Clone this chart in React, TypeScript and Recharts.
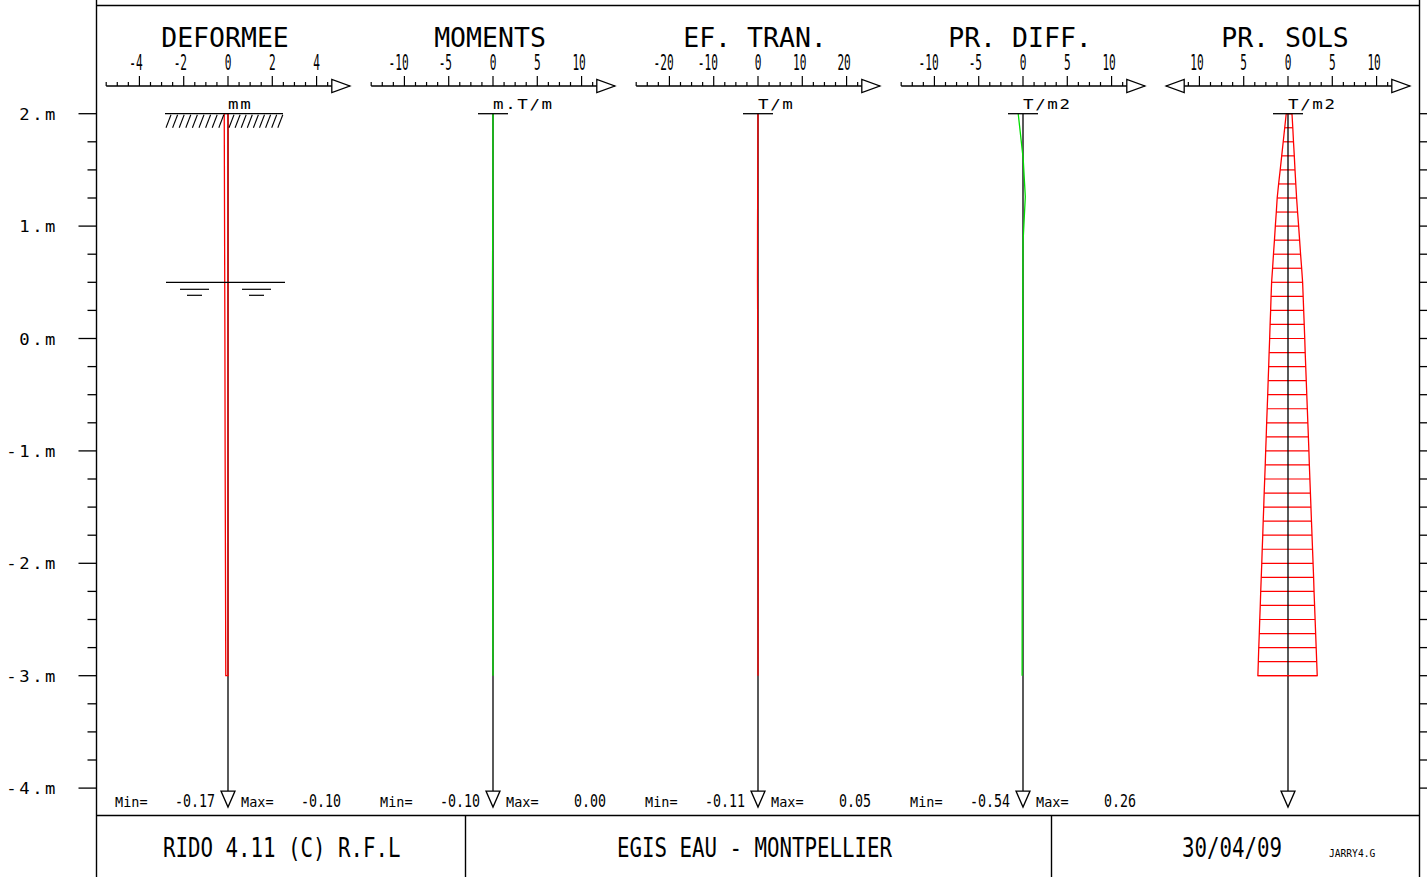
import React from 'react';
import { ComposedChart, XAxis, YAxis, Scatter, ReferenceLine, ReferenceDot } from 'recharts';

const FONT = '"DejaVu Sans Mono", monospace';
const RED = '#ff0000';
const GREEN = '#00dd00';

// ---- depth axis ----
const depthMajor = [2, 1, 0, -1, -2, -3, -4];
const depthLabels = ['2.m', '1.m', '0.m', '-1.m', '-2.m', '-3.m', '-4.m'];
const depthTicks = [2, 1.75, 1.5, 1.25, 1, 0.75, 0.5, 0.25, 0, -0.25, -0.5, -0.75, -1, -1.25, -1.5, -1.75, -2, -2.25, -2.5, -2.75, -3, -3.25, -3.5, -3.75, -4];

const pileTop = 2;
const pileBottom = -3;
const axisBottom = -4;
const waterLevel = 0.5;

// ---- ruler scales ----
const ticksDeformee = [-5.5, -5, -4.5, -4, -3.5, -3, -2.5, -2, -1.5, -1, -0.5, 0, 0.5, 1, 1.5, 2, 2.5, 3, 3.5, 4, 4.5];
const labelsDeformee = [-4, -2, 0, 2, 4];
const ticks10 = [-13.75, -12.5, -11.25, -10, -8.75, -7.5, -6.25, -5, -3.75, -2.5, -1.25, 0, 1.25, 2.5, 3.75, 5, 6.25, 7.5, 8.75, 10, 11.25];
const labels10 = [-10, -5, 0, 5, 10];
const ticks20 = [-27.5, -25, -22.5, -20, -17.5, -15, -12.5, -10, -7.5, -5, -2.5, 0, 2.5, 5, 7.5, 10, 12.5, 15, 17.5, 20, 22.5];
const labels20 = [-20, -10, 0, 10, 20];
const ticksSols = [-11.25, -10, -8.75, -7.5, -6.25, -5, -3.75, -2.5, -1.25, 0, 1.25, 2.5, 3.75, 5, 6.25, 7.5, 8.75, 10, 11.25];

// ---- series ----
const deformeeDepth = [2, 1, 0, -1, -2, -3];
const deformeeValues = [-0.17, -0.155, -0.14, -0.13, -0.115, -0.10];

const momentDepth = [2, 1.5, 1, 0.5, 0, -0.5, -1, -1.5, -2, -2.5, -3];
const momentValues = [0, -0.01, -0.03, -0.06, -0.09, -0.10, -0.09, -0.07, -0.04, -0.02, 0];

const shearDepth = [2, 1.5, 1, 0.5, 0, -0.5, -1, -1.5, -2, -2.5, -3];
const shearValues = [0, -0.05, -0.10, -0.11, -0.06, 0.0, 0.03, 0.05, 0.04, 0.02, 0];

const pdiffDepth = [2, 1.6, 1.26, 0.85, 0, -1, -2, -3];
const pdiffValues = [-0.54, 0.02, 0.26, 0.0, -0.04, -0.07, -0.09, -0.1];

const soilDepth = [2, 1.875, 1.75, 1.625, 1.5, 1.375, 1.25, 1.125, 1, 0.875, 0.75, 0.625, 0.5, 0.375, 0.25, 0.125, 0, -0.125, -0.25, -0.375, -0.5, -0.625, -0.75, -0.875, -1, -1.125, -1.25, -1.375, -1.5, -1.625, -1.75, -1.875, -2, -2.125, -2.25, -2.375, -2.5, -2.625, -2.75, -2.875, -3];
const soilLeft = [-0.2, -0.37, -0.54, -0.71, -0.88, -1.06, -1.22, -1.32, -1.43, -1.53, -1.64, -1.74, -1.85, -1.91, -1.96, -2.02, -2.07, -2.13, -2.18, -2.24, -2.29, -2.35, -2.41, -2.46, -2.52, -2.57, -2.63, -2.69, -2.74, -2.8, -2.85, -2.91, -2.96, -3.02, -3.08, -3.13, -3.19, -3.24, -3.3, -3.35, -3.4];
const soilRight = [0.45, 0.54, 0.62, 0.71, 0.79, 0.88, 0.97, 1.08, 1.2, 1.31, 1.42, 1.54, 1.65, 1.71, 1.77, 1.83, 1.89, 1.94, 2.0, 2.06, 2.12, 2.18, 2.24, 2.3, 2.36, 2.41, 2.47, 2.53, 2.59, 2.65, 2.71, 2.77, 2.83, 2.89, 2.94, 3.0, 3.06, 3.12, 3.18, 3.24, 3.3];

// ---- layout ----
const W = 1427;
const H = 877;
const PLOT_TOP = 86;
const PLOT_BOTTOM = 816;
const AX_H = 2;
const Y0 = 113.7;
const PPM = 112.4;
const D_TOP = 2 + (Y0 - PLOT_TOP) / PPM;
const D_BOT = 2 - (PLOT_BOTTOM - Y0) / PPM;
const PANEL_ZERO = [228.3, 493.3, 758, 1023, 1288.3];
const PW = 264;
const PM = 10.2;

type Pt = { x: number; y: number };

const line = (depth: number[], vals: number[]): Pt[] => depth.map((d, i) => ({ x: vals[i], y: d }));

const deformeePoly: Pt[] = [{ x: 0, y: pileTop }, ...line(deformeeDepth, deformeeValues), { x: 0, y: pileBottom }, { x: 0, y: pileTop }];
const soilPoly: Pt[] = [
  ...line(soilDepth, soilLeft),
  ...line([...soilDepth].reverse(), [...soilRight].reverse()),
  { x: soilLeft[0], y: soilDepth[0] },
];

function T(props: { x: number; y: number; s: string; size: number; sx?: number; anchor?: string; ls?: number; fill?: string }) {
  const { x, y, s, size, sx = 1, anchor = 'start', ls = 0, fill = '#000' } = props;
  return (
    <text
      transform={`translate(${x},${y}) scale(${sx},1)`}
      x={0}
      y={0}
      fontFamily={FONT}
      fontSize={size}
      textAnchor={anchor as any}
      letterSpacing={ls}
      fill={fill}
    >
      {s}
    </text>
  );
}

type PanelCfg = {
  title: string;
  unit: string;
  h: number;
  ticks: number[];
  labels: number[];
  abs?: boolean;
  both?: boolean;
  min?: number;
  max?: number;
  ground?: boolean;
};

const panels: PanelCfg[] = [
  { title: 'DEFORMEE', unit: 'mm', h: 5.5, ticks: ticksDeformee, labels: labelsDeformee, min: -0.17, max: -0.1, ground: true },
  { title: 'MOMENTS', unit: 'm.T/m', h: 13.75, ticks: ticks10, labels: labels10, min: -0.1, max: 0.0 },
  { title: 'EF. TRAN.', unit: 'T/m', h: 27.5, ticks: ticks20, labels: labels20, min: -0.11, max: 0.05 },
  { title: 'PR. DIFF.', unit: 'T/m2', h: 13.75, ticks: ticks10, labels: labels10, min: -0.54, max: 0.26 },
  { title: 'PR. SOLS', unit: 'T/m2', h: 13.75, ticks: ticksSols, labels: labels10, abs: true, both: true },
];

const seriesByPanel: { pts: Pt[]; color: string }[][] = [
  [{ pts: deformeePoly, color: RED }],
  [{ pts: line(momentDepth, momentValues), color: GREEN }],
  [{ pts: line(shearDepth, shearValues), color: RED }],
  [{ pts: line(pdiffDepth, pdiffValues), color: GREEN }],
  [{ pts: soilPoly, color: RED }],
];

function RulerTick(props: any) {
  const { x, payload, cfg } = props;
  const y = PLOT_TOP;
  const v = payload.value;
  const major = cfg.labels.includes(v);
  let label = null;
  if (major) {
    const s = cfg.abs ? String(Math.abs(v)) : String(v);
    const digits = s.replace('-', '');
    const xe = x + (digits.length * 6.7) / 2 - (digits.length > 1 ? 2.5 : 0);
    label = <T x={xe} y={y - 16} s={s} size={21} sx={0.53} anchor="end" />;
  }
  return (
    <g>
      <line x1={x} y1={y} x2={x} y2={y - (major ? 10 : 4)} stroke="#000" strokeWidth={1.2} />
      {label}
    </g>
  );
}

const arrowRight = (p: any) => (
  <polygon points={`${p.cx - 18},${p.cy - 6.5} ${p.cx - 18},${p.cy + 6.5} ${p.cx},${p.cy}`} fill="#fff" stroke="#000" strokeWidth={1.3} />
);
const arrowLeft = (p: any) => (
  <polygon points={`${p.cx + 18},${p.cy - 6.5} ${p.cx + 18},${p.cy + 6.5} ${p.cx},${p.cy}`} fill="#fff" stroke="#000" strokeWidth={1.3} />
);

function Panel({ cfg, idx }: { cfg: PanelCfg; idx: number }) {
  const left = PANEL_ZERO[idx] - PW / 2;
  const headerShape = (p: any) => <T x={p.cx - 3} y={p.cy - 39} s={cfg.title} size={26.5} anchor="middle" />;
  const topShape = (p: any) => {
    const { cx, cy } = p;
    const hatch: React.ReactNode[] = [];
    if (cfg.ground) {
      for (let i = 0; i < 9; i++) {
        const xa = cx - 57 + i * 6.6;
        hatch.push(<line key={'a' + i} x1={xa} y1={cy + 1} x2={xa - 5} y2={cy + 14} stroke="#000" strokeWidth={1.1} />);
        const xb = cx + 6 + i * 6.1;
        hatch.push(<line key={'b' + i} x1={xb} y1={cy + 1} x2={xb - 5} y2={cy + 14} stroke="#000" strokeWidth={1.1} />);
      }
    }
    return (
      <g>
        {cfg.ground ? (
          <line x1={cx - 63} y1={cy} x2={cx + 55} y2={cy} stroke="#000" strokeWidth={1.3} />
        ) : (
          <line x1={cx - 15} y1={cy} x2={cx + 15} y2={cy} stroke="#000" strokeWidth={1.3} />
        )}
        {hatch}
        <T x={cx} y={cy - 5} s={cfg.unit} size={14} sx={1.25} ls={1.3} />
      </g>
    );
  };
  const waterShape = (p: any) => {
    const { cx, cy } = p;
    return (
      <g stroke="#000" strokeWidth={1.2}>
        <line x1={cx - 62} y1={cy} x2={cx + 57} y2={cy} />
        <line x1={cx - 48} y1={cy + 7} x2={cx - 19} y2={cy + 7} />
        <line x1={cx + 14} y1={cy + 7} x2={cx + 43} y2={cy + 7} />
        <line x1={cx - 41} y1={cy + 13} x2={cx - 26} y2={cy + 13} />
        <line x1={cx + 21} y1={cy + 13} x2={cx + 36} y2={cy + 13} />
      </g>
    );
  };
  const bottomShape = (p: any) => {
    const { cx, cy } = p;
    return (
      <g>
        <line x1={cx} y1={cy} x2={cx} y2={cy + 3} stroke="#000" strokeWidth={1.3} />
        <polygon points={`${cx - 7},${cy + 3} ${cx + 7},${cy + 3} ${cx},${cy + 19}`} fill="#fff" stroke="#000" strokeWidth={1.3} />
        {cfg.min !== undefined && (
          <g>
            <T x={cx - 113} y={cy + 19} s="Min=" size={13.5} />
            <T x={cx - 13} y={cy + 19} s={cfg.min.toFixed(2)} size={18} sx={0.74} anchor="end" />
            <T x={cx + 13} y={cy + 19} s="Max=" size={13.5} />
            <T x={cx + 113} y={cy + 19} s={(cfg.max as number).toFixed(2)} size={18} sx={0.74} anchor="end" />
          </g>
        )}
      </g>
    );
  };
  const pile: Pt[] = [{ x: 0, y: pileTop }, { x: 0, y: axisBottom }];
  return (
    <div style={{ position: 'absolute', left, top: 0 }}>
      <ComposedChart width={PW} height={H} margin={{ top: PLOT_TOP - AX_H, bottom: H - PLOT_BOTTOM, left: PM, right: PM }}>
        <XAxis
          type="number"
          dataKey="x"
          domain={[-cfg.h, cfg.h]}
          allowDataOverflow
          orientation="top"
          height={AX_H}
          ticks={cfg.ticks}
          interval={0}
          tickSize={0}
          tickMargin={0}
          tickLine={false}
          axisLine={{ stroke: '#000', strokeWidth: 1.3 }}
          tick={(p: any) => <RulerTick {...p} cfg={cfg} />}
        />
        <YAxis type="number" dataKey="y" domain={[D_BOT, D_TOP]} allowDataOverflow hide />
        <Scatter data={pile} line={{ stroke: '#000', strokeWidth: 1.3 }} shape={() => <g />} isAnimationActive={false} />
        {seriesByPanel[idx].map((s, i) => (
          <Scatter key={i} data={s.pts} line={{ stroke: s.color, strokeWidth: 1.3 }} shape={() => <g />} isAnimationActive={false} />
        ))}
        {idx === 4 &&
          soilDepth.map((d, i) => (
            <ReferenceLine key={'h' + i} segment={[{ x: soilLeft[i], y: d }, { x: soilRight[i], y: d }]} stroke={RED} strokeWidth={1.2} ifOverflow="visible" />
          ))}
        <ReferenceDot x={0} y={D_TOP} r={0} shape={headerShape} ifOverflow="visible" />
        <ReferenceDot x={cfg.h} y={D_TOP} r={0} shape={arrowRight} ifOverflow="visible" />
        {cfg.both && <ReferenceDot x={-cfg.h} y={D_TOP} r={0} shape={arrowLeft} ifOverflow="visible" />}
        <ReferenceDot x={0} y={pileTop} r={0} shape={topShape} ifOverflow="visible" />
        {cfg.ground && <ReferenceDot x={0} y={waterLevel} r={0} shape={waterShape} ifOverflow="visible" />}
        <ReferenceDot x={0} y={axisBottom} r={0} shape={bottomShape} ifOverflow="visible" />
      </ComposedChart>
    </div>
  );
}

function DepthTickLeft(props: any) {
  const { x, y, payload } = props;
  const v = payload.value;
  const mi = depthMajor.indexOf(v);
  const major = mi >= 0;
  return (
    <g>
      <line x1={x} y1={y} x2={x - (major ? 18 : 9)} y2={y} stroke="#000" strokeWidth={1.3} />
      {major && <T x={58} y={y + 6} s={depthLabels[mi]} size={15} sx={1.15} ls={2.2} anchor="end" />}
    </g>
  );
}

function DepthTickRight(props: any) {
  const { x, y } = props;
  return <line x1={x} y1={y} x2={x + 9} y2={y} stroke="#000" strokeWidth={1.3} />;
}

function Frame() {
  const s = { stroke: '#000', strokeWidth: 1.4 };
  return (
    <svg width={W} height={H} style={{ position: 'absolute', left: 0, top: 0 }}>
      <line x1={96.5} y1={0} x2={96.5} y2={H} {...s} />
      <line x1={1419.5} y1={0} x2={1419.5} y2={H} {...s} />
      <line x1={96.5} y1={5.5} x2={1419.5} y2={5.5} {...s} />
      <line x1={96.5} y1={815.5} x2={1419.5} y2={815.5} {...s} />
      <line x1={465.5} y1={815.5} x2={465.5} y2={H} {...s} />
      <line x1={1051.5} y1={815.5} x2={1051.5} y2={H} {...s} />
      <T x={281.7} y={857} s="RIDO 4.11 (C) R.F.L" size={27} sx={0.77} anchor="middle" />
      <T x={754.5} y={857} s="EGIS EAU - MONTPELLIER" size={27} sx={0.77} anchor="middle" />
      <T x={1182} y={857} s="30/04/09" size={27} sx={0.77} />
      <T x={1329} y={857} s="JARRY4.G" size={9.6} />
    </svg>
  );
}

export default function App() {
  const dummy = [{ x: 0.5, y: 0 }];
  return (
    <div style={{ position: 'absolute', left: 0, top: 0, width: W, height: H, background: '#fff', overflow: 'hidden' }}>
      <Frame />
      <div style={{ position: 'absolute', left: 0, top: 0 }}>
        <ComposedChart width={W} height={H} margin={{ top: PLOT_TOP, bottom: H - PLOT_BOTTOM, left: 0, right: 0 }}>
          <XAxis type="number" dataKey="x" domain={[0, 1]} hide />
          <YAxis
            yAxisId="L"
            type="number"
            dataKey="y"
            orientation="left"
            width={96.5}
            domain={[D_BOT, D_TOP]}
            allowDataOverflow
            ticks={depthTicks}
            interval={0}
            tickSize={0}
            tickMargin={0}
            tickLine={false}
            axisLine={false}
            tick={(p: any) => <DepthTickLeft {...p} />}
          />
          <YAxis
            yAxisId="R"
            type="number"
            dataKey="y"
            orientation="right"
            width={7.5}
            domain={[D_BOT, D_TOP]}
            allowDataOverflow
            ticks={depthTicks}
            interval={0}
            tickSize={0}
            tickMargin={0}
            tickLine={false}
            axisLine={false}
            tick={(p: any) => <DepthTickRight {...p} />}
          />
          <Scatter yAxisId="L" data={dummy} shape={() => <g />} isAnimationActive={false} />
          <Scatter yAxisId="R" data={dummy} shape={() => <g />} isAnimationActive={false} />
        </ComposedChart>
      </div>
      {panels.map((p, i) => (
        <Panel key={i} cfg={p} idx={i} />
      ))}
    </div>
  );
}
